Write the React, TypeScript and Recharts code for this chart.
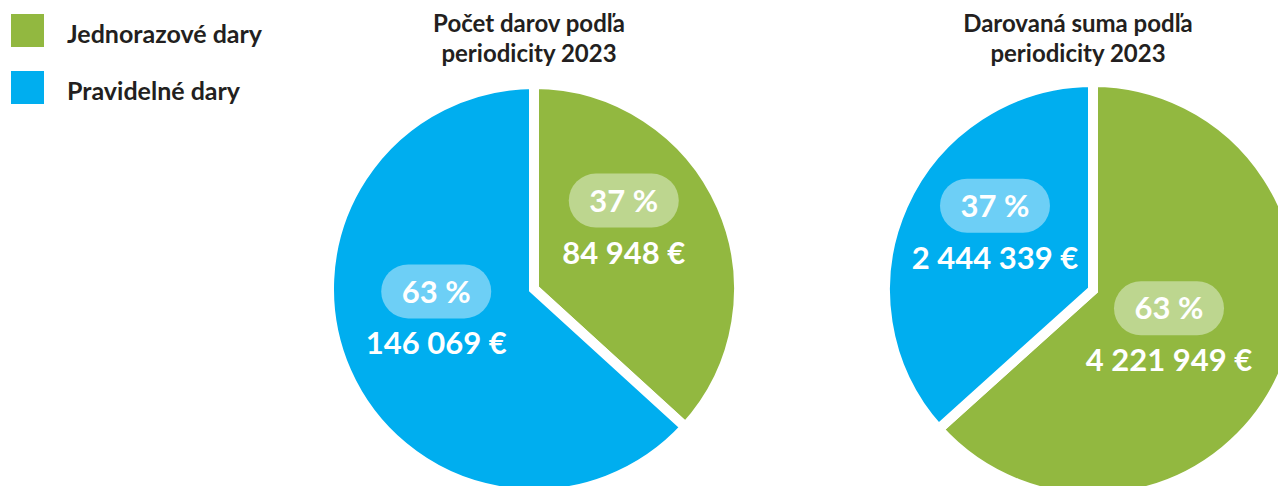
import { PieChart, Pie, Cell, Legend } from "recharts";

const seriesNames = ["Jednorazové dary", "Pravidelné dary"];
const seriesColors = ["#92b840", "#00aeef"];
const badgeColors = ["#bdd68f", "#6dcff6"];

const countTitle = ["Počet darov podľa", "periodicity 2023"];
const sumTitle = ["Darovaná suma podľa", "periodicity 2023"];

// order: Jednorazové, Pravidelné
const countValues = [84948, 146069];
const sumValues = [4221949, 2444339];

const countData = seriesNames.map((name, i) => ({ name, value: countValues[i] }));
const sumData = seriesNames.map((name, i) => ({ name, value: sumValues[i] }));

// small hand nudges for label placement (px), per slice
const countLabelNudge = [[-4, -3], [-4, 5]];
const sumLabelNudge = [[-19, 20], [-3, 2]];

const FONT = "Lato, 'Open Sans', sans-serif";
const RADIAN = Math.PI / 180;

function formatEur(v: number) {
    return String(v).replace(/\B(?=(\d{3})+(?!\d))/g, " ") + " €";
}

function makeLabel(nudge: number[][]) {
    return function SliceLabel(props: any) {
        const { cx, cy, midAngle, outerRadius, percent, value, index } = props;
        const r = outerRadius * 0.5;
        const x = cx + r * Math.cos(-midAngle * RADIAN) + nudge[index][0];
        const y = cy + r * Math.sin(-midAngle * RADIAN) + nudge[index][1];
        const pillY = y - 44;
        return (
            <g>
                <rect
                    x={x - 55}
                    y={pillY - 27}
                    width={110}
                    height={54}
                    rx={27}
                    fill={badgeColors[index]}
                />
                <text
                    x={x}
                    y={pillY}
                    dy="0.36em"
                    textAnchor="middle"
                    fill="#fff"
                    fontSize={31}
                    fontWeight={700}
                    fontFamily={FONT}
                >
                    {Math.round(percent * 100)} %
                </text>
                <text
                    x={x}
                    y={pillY + 63}
                    textAnchor="middle"
                    fill="#fff"
                    fontSize={31}
                    fontWeight={700}
                    fontFamily={FONT}
                >
                    {formatEur(value)}
                </text>
            </g>
        );
    };
}

function LegendBox() {
    return (
        <div style={{ paddingTop: 14, paddingLeft: 11 }}>
            {seriesNames.map((name, i) => (
                <div
                    key={name}
                    style={{
                        display: "flex",
                        alignItems: "center",
                        height: 33,
                        marginTop: i ? 24 : 0,
                    }}
                >
                    <span
                        style={{
                            width: 33,
                            height: 33,
                            background: seriesColors[i],
                            display: "inline-block",
                        }}
                    />
                    <span
                        style={{
                            marginLeft: 23,
                            paddingTop: 4,
                            fontFamily: FONT,
                            fontSize: 25,
                            fontWeight: 700,
                            color: "#231f20",
                            whiteSpace: "nowrap",
                        }}
                    >
                        {name}
                    </span>
                </div>
            ))}
        </div>
    );
}

function Title({ lines, centerX }: { lines: string[]; centerX: number }) {
    return (
        <div
            style={{
                position: "absolute",
                left: centerX - 160,
                top: 8,
                width: 320,
                textAlign: "center",
                fontFamily: FONT,
                fontSize: 24,
                fontWeight: 700,
                lineHeight: "30px",
                color: "#231f20",
            }}
        >
            {lines.map((l) => (
                <div key={l}>{l}</div>
            ))}
        </div>
    );
}

export default function App() {
    return (
        <div
            style={{
                position: "absolute",
                left: 0,
                top: 0,
                width: 1278,
                height: 486,
                overflow: "hidden",
                background: "#fff",
            }}
        >
            <PieChart width={1278} height={486} margin={{ top: 0, right: 0, bottom: 0, left: 0 }}>
                <Legend
                    layout="vertical"
                    align="center"
                    verticalAlign="middle"
                    wrapperStyle={{ left: 0, top: 0, width: 320 }}
                    content={() => <LegendBox />}
                />
                <Pie
                    data={countData}
                    dataKey="value"
                    nameKey="name"
                    cx={534}
                    cy={289}
                    outerRadius={205}
                    startAngle={90}
                    endAngle={-270}
                    stroke="#fff"
                    strokeWidth={10}
                    label={makeLabel(countLabelNudge)}
                    labelLine={false}
                    isAnimationActive={false}
                >
                    {countData.map((d, i) => (
                        <Cell key={d.name} fill={seriesColors[i]} />
                    ))}
                </Pie>
                <Pie
                    data={sumData}
                    dataKey="value"
                    nameKey="name"
                    cx={1093}
                    cy={290}
                    outerRadius={208}
                    startAngle={90}
                    endAngle={-270}
                    stroke="#fff"
                    strokeWidth={10}
                    label={makeLabel(sumLabelNudge)}
                    labelLine={false}
                    isAnimationActive={false}
                >
                    {sumData.map((d, i) => (
                        <Cell key={d.name} fill={seriesColors[i]} />
                    ))}
                </Pie>
            </PieChart>
            <Title lines={countTitle} centerX={529} />
            <Title lines={sumTitle} centerX={1078} />
        </div>
    );
}
